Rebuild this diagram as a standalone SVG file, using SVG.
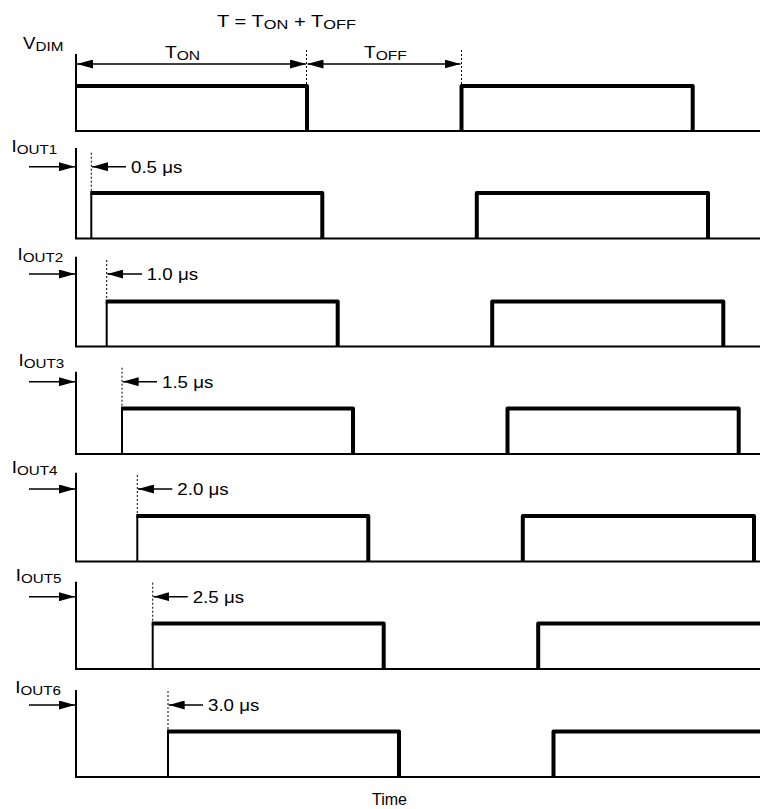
<svg xmlns="http://www.w3.org/2000/svg" width="760" height="809" viewBox="0 0 760 809">
<defs>
<marker id="ah" viewBox="0 0 16 9" markerWidth="16" markerHeight="9" refX="16" refY="4.5" orient="auto-start-reverse" markerUnits="userSpaceOnUse">
<path d="M0,0 L16,4.5 L0,9 z" fill="#000"/>
</marker>
<style>
.thin{stroke:#000;stroke-width:2;fill:none}
.thick{stroke:#000;stroke-width:4;fill:none;stroke-linejoin:round}
.dot{stroke:#000;stroke-width:1;stroke-dasharray:2,2;fill:none}
.arr{stroke:#000;stroke-width:1.5;fill:none}
text{font-family:"Liberation Sans",Arial,sans-serif;font-size:16px;fill:#000}
.sub{font-size:13px}
</style>
</defs>
<rect width="760" height="809" fill="#fff"/>

<text transform="translate(217,26.5) scale(1.26,1)">T = T<tspan class="sub" dy="2">ON</tspan><tspan dy="-2"> + T</tspan><tspan class="sub" dy="2">OFF</tspan></text>

<g id="vdim">
<text transform="translate(23,49) scale(1.17,1)">V<tspan class="sub" dy="2">DIM</tspan></text>
<line class="thin" x1="76" y1="54" x2="76" y2="131"/>
<line class="thin" x1="75" y1="131" x2="760" y2="131"/>
<path class="thick" d="M75,86 H307 V131"/>
<path class="thick" d="M461.5,131 V86 H692.7 V131"/>
<text transform="translate(165,58.3) scale(1.2,1)">T<tspan class="sub" dy="2">ON</tspan></text>
<text transform="translate(364,58.3) scale(1.2,1)">T<tspan class="sub" dy="2">OFF</tspan></text>
<line class="dot" x1="306.5" y1="50" x2="306.5" y2="84"/>
<line class="dot" x1="461.5" y1="50" x2="461.5" y2="84"/>
</g>

<g id="iout1">
<text transform="translate(11.5,152.3) scale(1.17,1)">I<tspan class="sub" dy="2">OUT1</tspan></text>
<line class="thin" x1="76" y1="148" x2="76" y2="238.5"/>
<line class="thin" x1="75" y1="238.5" x2="760" y2="238.5"/>
<line class="thin" x1="91.3" y1="238.5" x2="91.3" y2="193"/>
<path class="thick" d="M90.3,193 H322.3 V238.5"/>
<path class="thick" d="M476.8,238.5 V193 H708 V238.5"/>
<line class="dot" x1="91.3" y1="152.7" x2="91.3" y2="191"/>
<text transform="translate(131,172.7) scale(1.17,1)">0.5 μs</text>
</g>

<g id="iout2">
<text transform="translate(17.5,260) scale(1.17,1)">I<tspan class="sub" dy="2">OUT2</tspan></text>
<line class="thin" x1="76" y1="256.7" x2="76" y2="346.5"/>
<line class="thin" x1="75" y1="346.5" x2="760" y2="346.5"/>
<line class="thin" x1="106.7" y1="346.5" x2="106.7" y2="301.5"/>
<path class="thick" d="M105.7,301.5 H337.7 V346.5"/>
<path class="thick" d="M492.2,346.5 V301.5 H723.3 V346.5"/>
<line class="dot" x1="106.7" y1="260" x2="106.7" y2="299.5"/>
<text transform="translate(146.7,280) scale(1.17,1)">1.0 μs</text>
</g>

<g id="iout3">
<text transform="translate(18.5,365.7) scale(1.17,1)">I<tspan class="sub" dy="2">OUT3</tspan></text>
<line class="thin" x1="76" y1="371.7" x2="76" y2="454"/>
<line class="thin" x1="75" y1="454" x2="760" y2="454"/>
<line class="thin" x1="122" y1="454" x2="122" y2="408.5"/>
<path class="thick" d="M121,408.5 H353 V454"/>
<path class="thick" d="M507.5,454 V408.5 H738.7 V454"/>
<line class="dot" x1="122" y1="367.7" x2="122" y2="406.5"/>
<text transform="translate(162,387.7) scale(1.17,1)">1.5 μs</text>
</g>

<g id="iout4">
<text transform="translate(11.8,472.7) scale(1.17,1)">I<tspan class="sub" dy="2">OUT4</tspan></text>
<line class="thin" x1="76" y1="472.7" x2="76" y2="561.5"/>
<line class="thin" x1="75" y1="561.5" x2="760" y2="561.5"/>
<line class="thin" x1="137.3" y1="561.5" x2="137.3" y2="516"/>
<path class="thick" d="M136.3,516 H368.3 V561.5"/>
<path class="thick" d="M522.8,561.5 V516 H754 V561.5"/>
<line class="dot" x1="137.3" y1="475" x2="137.3" y2="514"/>
<text transform="translate(177.3,495) scale(1.17,1)">2.0 μs</text>
</g>

<g id="iout5">
<text transform="translate(15.8,580.7) scale(1.17,1)">I<tspan class="sub" dy="2">OUT5</tspan></text>
<line class="thin" x1="76" y1="581.7" x2="76" y2="669"/>
<line class="thin" x1="75" y1="669" x2="760" y2="669"/>
<line class="thin" x1="152.7" y1="669" x2="152.7" y2="623.5"/>
<path class="thick" d="M151.7,623.5 H383.7 V669"/>
<path class="thick" d="M538.2,669 V623.5 H762"/>
<line class="dot" x1="152.7" y1="582.7" x2="152.7" y2="621.5"/>
<text transform="translate(192.7,602.7) scale(1.17,1)">2.5 μs</text>
</g>

<g id="iout6">
<text transform="translate(15.2,693) scale(1.17,1)">I<tspan class="sub" dy="2">OUT6</tspan></text>
<line class="thin" x1="76" y1="690" x2="76" y2="777"/>
<line class="thin" x1="75" y1="777" x2="760" y2="777"/>
<line class="thin" x1="168" y1="777" x2="168" y2="731.5"/>
<path class="thick" d="M167,731.5 H399 V777"/>
<path class="thick" d="M553.5,777 V731.5 H762"/>
<line class="dot" x1="168" y1="691" x2="168" y2="729.5"/>
<text transform="translate(208,711) scale(1.17,1)">3.0 μs</text>
</g>

<text x="372" y="805">Time</text>

<g id="connectors">
<line class="arr" x1="77" y1="64" x2="306" y2="64" marker-start="url(#ah)" marker-end="url(#ah)"/>
<line class="arr" x1="307.5" y1="64" x2="460.5" y2="64" marker-start="url(#ah)" marker-end="url(#ah)"/>
<line class="arr" x1="29" y1="166.7" x2="75" y2="166.7" marker-end="url(#ah)"/>
<line class="arr" x1="29" y1="274" x2="75" y2="274" marker-end="url(#ah)"/>
<line class="arr" x1="29" y1="381.7" x2="75" y2="381.7" marker-end="url(#ah)"/>
<line class="arr" x1="29" y1="489" x2="75" y2="489" marker-end="url(#ah)"/>
<line class="arr" x1="29" y1="596.7" x2="75" y2="596.7" marker-end="url(#ah)"/>
<line class="arr" x1="29" y1="705" x2="75" y2="705" marker-end="url(#ah)"/>
<line class="arr" x1="92" y1="166.7" x2="126" y2="166.7" marker-start="url(#ah)"/>
<line class="arr" x1="107.4" y1="274" x2="142" y2="274" marker-start="url(#ah)"/>
<line class="arr" x1="122.7" y1="381.7" x2="157" y2="381.7" marker-start="url(#ah)"/>
<line class="arr" x1="138" y1="489" x2="172.3" y2="489" marker-start="url(#ah)"/>
<line class="arr" x1="153.4" y1="596.7" x2="187.7" y2="596.7" marker-start="url(#ah)"/>
<line class="arr" x1="168.7" y1="705" x2="203" y2="705" marker-start="url(#ah)"/>
</g>
</svg>
